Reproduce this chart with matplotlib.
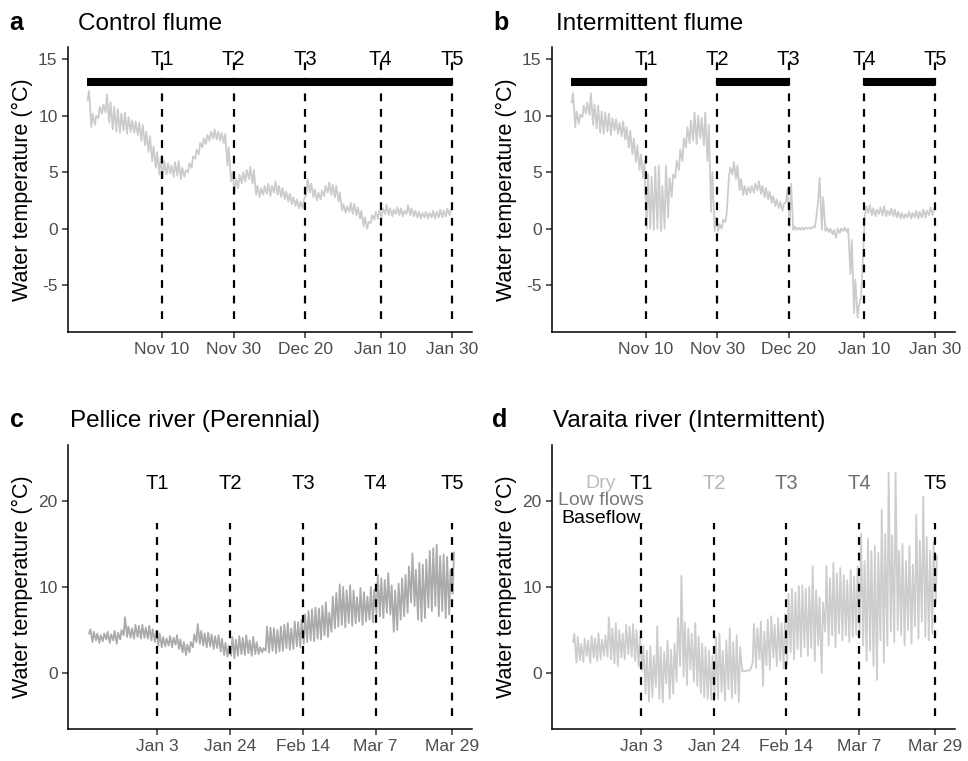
"""Water temperature in the flumes and the two rivers, with sampling dates T1-T5."""

import numpy as np
import matplotlib
matplotlib.use("Agg")
import matplotlib.pyplot as plt

plt.rcParams["font.family"] = ["Liberation Sans", "DejaVu Sans"]
plt.rcParams["axes.unicode_minus"] = False

# ---------------------------------------------------------------------------
# Data: daily low / high water temperature (degC)
# ---------------------------------------------------------------------------

flume_start = np.datetime64("2019-10-20")

control_lo = [11.4, 9.0, 9.2, 9.8, 10.2, 10.3, 9.4, 8.8, 8.6, 8.5,
              8.7, 8.4, 8.6, 8.5, 8.3, 7.8, 7.4, 6.8, 6.0, 5.4,
              4.8, 4.6, 4.8, 4.9, 4.6, 4.7, 4.4, 4.6, 5.0, 5.4,
              6.2, 6.6, 7.2, 7.5, 7.8, 8.0, 7.9, 7.8, 7.6, 5.6,
              4.2, 3.2, 3.6, 4.0, 4.2, 4.4, 4.0, 3.0, 2.8, 3.0,
              3.1, 2.9, 3.2, 3.0, 2.8, 2.6, 2.4, 2.2, 2.0, 1.8,
              1.8, 3.0, 3.2, 2.8, 2.5, 2.6, 2.9, 3.2, 3.0, 2.8,
              2.4, 1.6, 1.4, 1.5, 1.3, 1.2, 0.9, 0.2, 0.0, 0.5,
              0.8, 0.9, 1.0, 1.3, 1.2, 1.1, 1.3, 1.2, 1.1, 1.3,
              1.2, 1.1, 1.0, 0.9, 1.0, 0.9, 1.0, 0.9, 1.0, 1.0,
              1.1, 1.2]
control_hi = [12.2, 10.2, 10.0, 10.8, 11.0, 11.9, 11.2, 10.8, 10.6, 10.2,
              10.3, 9.9, 9.6, 9.5, 9.4, 9.2, 8.6, 8.2, 7.3, 6.8,
              6.3, 6.0, 5.8, 5.6, 5.9, 6.0, 5.4, 5.2, 5.8, 6.4,
              7.0, 7.6, 8.0, 8.3, 8.6, 8.8, 8.6, 8.5, 8.4, 7.2,
              5.0, 4.4, 4.8, 5.0, 5.2, 5.5, 5.2, 3.8, 3.6, 3.8,
              4.0, 3.8, 4.2, 3.8, 3.6, 3.3, 3.1, 2.8, 2.6, 2.4,
              2.6, 4.4, 4.0, 3.5, 3.2, 3.4, 3.8, 4.1, 3.9, 3.8,
              3.2, 2.2, 2.0, 2.3, 2.2, 1.9, 1.6, 1.0, 0.6, 1.2,
              1.5, 1.6, 1.8, 2.1, 1.8, 1.7, 1.9, 1.8, 1.6, 2.1,
              1.8, 1.6, 1.5, 1.4, 1.5, 1.4, 1.6, 1.5, 1.7, 1.6,
              1.8, 1.7]

intermittent_lo = [11.2, 9.0, 9.3, 9.9, 10.2, 10.1, 9.2, 8.9, 8.5, 8.4,
                   8.6, 8.3, 8.7, 8.4, 8.2, 7.9, 7.2, 6.6, 5.9, 5.2,
                   4.5, 0.0, 0.0, -0.1, 0.0, -0.2, 0.0, 1.0, 2.8, 4.5,
                   5.2, 6.0, 7.2, 7.6, 7.8, 7.5, 8.0, 7.4, 6.0, 1.5,
                   -0.2, -0.2, 0.0, 0.6, 4.6, 4.8, 4.4, 3.4, 3.0, 3.0,
                   3.2, 3.2, 3.4, 3.1, 2.8, 2.6, 2.3, 2.0, 1.8, 1.6,
                   2.4, 0.2, -0.1, -0.1, -0.1, -0.1, 0.0, 0.0, 0.1, 2.6,
                   -0.1, -0.2, -0.3, -0.5, -0.8, -0.4, -0.2, -0.3, -4.0, -7.5,
                   -7.9, -6.0, 1.0, 1.4, 1.2, 1.1, 1.3, 1.2, 1.1, 1.2,
                   1.1, 1.0, 0.9, 0.9, 1.0, 0.9, 1.0, 0.9, 1.0, 1.0,
                   1.2, 1.2]
intermittent_hi = [12.0, 10.4, 10.1, 10.9, 11.2, 12.0, 11.0, 10.9, 10.4, 10.3,
                   10.2, 9.8, 9.7, 9.4, 9.5, 9.0, 8.7, 8.0, 7.4, 6.6,
                   6.0, 4.8, 4.6, 5.5, 5.6, 3.8, 5.6, 4.5, 4.8, 6.0,
                   7.0, 8.0, 9.0, 9.6, 10.3, 10.0, 9.8, 10.3, 9.2, 5.0,
                   1.0, 0.4, 0.8, 1.4, 5.4, 5.9, 5.6, 4.4, 3.8, 3.7,
                   3.8, 4.0, 4.2, 3.8, 3.6, 3.3, 2.9, 2.6, 2.4, 2.2,
                   3.6, 4.0, 0.2, 0.1, 0.1, 0.1, 0.1, 0.2, 0.8, 4.5,
                   2.8, 0.1, 0.0, -0.1, 0.0, 0.0, 0.1, 0.0, -1.0, -4.5,
                   -6.8, -3.4, 2.0, 2.1, 1.8, 1.7, 1.9, 2.0, 1.6, 1.8,
                   1.7, 1.5, 1.4, 1.3, 1.5, 1.4, 1.6, 1.5, 1.7, 1.6,
                   1.9, 1.8]

river_start = np.datetime64("2018-12-14")

pellice_lo = [4.6, 3.6, 3.8, 3.5, 3.7, 3.9, 3.5, 3.8, 3.4, 3.9,
              4.4, 4.2, 4.1, 4.0, 4.2, 4.0, 4.1, 4.0, 3.8, 3.6,
              3.2, 3.0, 3.1, 3.2, 3.0, 3.3, 2.8, 2.4, 2.1, 2.4,
              3.0, 3.6, 3.4, 3.2, 3.0, 3.1, 2.8, 2.9, 2.5, 2.1,
              1.9, 2.0, 1.7, 2.0, 2.2, 2.1, 2.3, 2.0, 2.2, 2.2,
              2.4, 2.6, 2.4, 2.6, 2.3, 2.5, 2.6, 2.9, 2.7, 2.8,
              3.1, 3.0, 3.4, 3.6, 3.8, 3.7, 4.0, 3.9, 4.4, 4.2,
              4.8, 5.2, 5.4, 5.6, 5.3, 5.8, 5.5, 5.8, 6.0, 5.6,
              6.0, 6.2, 5.9, 6.8, 6.6, 6.4, 7.0, 6.8, 4.8, 5.0,
              6.2, 6.6, 7.0, 8.2, 7.8, 6.2, 6.0, 6.4, 7.6, 7.2,
              7.8, 6.6, 7.2, 6.4, 6.8, 9.2]
pellice_hi = [5.1, 4.8, 4.6, 4.4, 4.6, 4.8, 4.5, 4.9, 4.7, 5.0,
              6.5, 5.4, 5.2, 5.6, 5.5, 5.6, 5.3, 5.5, 5.1, 4.9,
              4.6, 4.2, 4.0, 4.3, 4.1, 4.4, 3.9, 3.6, 3.3, 3.6,
              4.5, 5.7, 4.9, 4.6, 4.7, 4.5, 4.3, 4.4, 4.0, 3.5,
              3.2, 4.2, 3.9, 4.3, 4.1, 4.4, 3.8, 4.2, 3.6, 3.0,
              2.9, 5.4, 5.3, 5.2, 5.0, 5.4, 5.6, 5.8, 5.2, 6.0,
              5.9, 6.2, 6.8, 7.2, 7.4, 7.6, 7.5, 7.8, 8.2, 7.0,
              8.9, 9.3, 10.3, 10.0, 9.6, 10.2, 9.6, 8.8, 9.9, 9.4,
              8.9, 10.0, 9.7, 11.4, 11.0, 10.8, 11.6, 10.2, 9.6, 10.4,
              11.0, 11.4, 12.4, 13.9, 12.0, 12.8, 12.6, 13.2, 14.2, 14.5,
              14.9, 13.6, 13.8, 13.5, 12.0, 14.0]

varaita_lo = [3.6, 1.2, 1.5, 1.3, 2.0, 1.2, 1.8, 1.4, 1.6, 2.0,
              1.9, 1.6, 1.1, 0.8, 1.8, 1.6, 2.2, 1.9, 1.4, 0.8,
              0.3, -2.4, -3.3, -2.8, -1.6, -3.0, -3.4, -1.2, -3.0, -2.4,
              -1.0, 0.8, -0.4, -1.4, 0.4, -1.0, -1.5, -2.3, -2.8, -3.0,
              -3.1, -2.6, -3.0, -2.2, -3.2, -1.9, -2.9, -2.4, -3.4, 0.2,
              0.2, 0.3, 1.2, 0.6, 1.6, -1.5, 0.9, 0.4, 1.8, 0.8,
              1.4, 0.5, 1.0, 2.4, 1.6, 2.8, 1.9, 3.0, 2.0, 2.9,
              1.4, 3.2, 0.0, 4.8, 3.2, 4.4, 3.0, 4.6, 3.8, 4.4,
              3.6, 4.2, 4.4, 4.4, 3.2, 1.4, 2.6, 0.8, -0.8, 3.8,
              1.2, 3.2, 4.8, 3.6, 5.0, 4.4, 3.2, 5.0, 3.4, 5.4,
              4.0, 6.0, 4.2, 3.8, 4.6, 8.2]
varaita_hi = [4.6, 4.2, 3.4, 4.0, 3.8, 4.3, 4.0, 4.6, 3.9, 4.4,
              6.5, 5.2, 5.8, 5.0, 4.6, 5.6, 5.4, 5.7, 5.0, 4.2,
              3.2, 2.6, 3.1, 2.0, 5.4, 3.0, 2.4, 3.8, 2.7, 3.4,
              6.4, 11.3, 5.9, 5.2, 4.6, 5.8, 4.2, 3.4, 3.0, 2.6,
              2.0, 4.2, 4.6, 2.6, 3.8, 5.2, 3.6, 4.4, 3.0, 0.3,
              0.3, 0.4, 5.7, 5.2, 6.0, 4.8, 6.2, 6.6, 5.6, 6.4,
              5.8, 6.9, 9.2, 9.8, 9.4, 10.1, 10.2, 9.8, 10.0, 12.4,
              9.6, 8.8, 8.2, 12.4, 11.0, 12.8, 11.6, 12.2, 11.4, 10.8,
              12.0, 11.2, 12.4, 16.2, 13.0, 15.6, 14.2, 14.8, 14.0, 19.0,
              16.2, 23.3, 16.0, 23.3, 14.2, 15.0, 13.0, 14.8, 12.6, 18.4,
              15.4, 20.5, 15.8, 14.2, 15.2, 13.6]

sample_names = ["T1", "T2", "T3", "T4", "T5"]
flume_samples = ["2019-11-10", "2019-11-30", "2019-12-20", "2020-01-10", "2020-01-30"]
flume_labels = ["Nov 10", "Nov 30", "Dec 20", "Jan 10", "Jan 30"]
river_samples = ["2019-01-03", "2019-01-24", "2019-02-14", "2019-03-07", "2019-03-29"]
river_labels = ["Jan 3", "Jan 24", "Feb 14", "Mar 7", "Mar 29"]

# flowing periods (black bars)
control_flow = [("2019-10-20", "2020-01-30")]
intermittent_flow = [("2019-10-20", "2019-11-10"), ("2019-11-30", "2019-12-20"),
                     ("2020-01-10", "2020-01-30")]

# Varaita: hydrological state at each sampling date
varaita_tcolors = ["black", "#b5b5b5", "#6e6e6e", "#6e6e6e", "black"]
varaita_legend = [("Dry", "#bdbdbd"), ("Low flows", "#7a7a7a"), ("Baseflow", "black")]


# ---------------------------------------------------------------------------
# Helpers
# ---------------------------------------------------------------------------

W, H = 968, 761


def daily_series(start, lo, hi):
    """Interleave daily low (morning) and high (afternoon) readings."""
    days = start + np.arange(len(lo)) * np.timedelta64(1, "D")
    t = np.empty(2 * len(lo), dtype="datetime64[h]")
    t[0::2] = days + np.timedelta64(6, "h")
    t[1::2] = days + np.timedelta64(15, "h")
    v = np.empty(2 * len(lo))
    v[0::2] = lo
    v[1::2] = hi
    return t, v


def panel(fig, rect_px, xlim, ylim, yticks, samples, labels):
    left, top, right, bottom = rect_px
    ax = fig.add_axes([left / W, 1 - bottom / H, (right - left) / W, (bottom - top) / H])
    for side in ("top", "right"):
        ax.spines[side].set_visible(False)
    for side in ("left", "bottom"):
        ax.spines[side].set_linewidth(1.1)
    ax.set_xlim(np.datetime64(xlim[0]), np.datetime64(xlim[1]))
    ax.set_ylim(*ylim)
    ax.set_yticks(yticks)
    ax.set_xticks([np.datetime64(d) for d in samples])
    ax.set_xticklabels(labels)
    ax.tick_params(direction="out", length=4.5, width=1.1, color="#333333",
                   labelcolor="#4d4d4d", labelsize=12.5, pad=3)
    ax.set_ylabel("Water temperature (°C)", fontsize=15.5)
    ax.yaxis.set_label_coords(-35 / (right - left), 0.5)
    return ax


def title(fig, x_letter, x_title, y_base, letter, text):
    fig.text(x_letter / W, 1 - y_base / H, letter, fontsize=18, fontweight="bold",
             va="baseline")
    fig.text(x_title / W, 1 - y_base / H, text, fontsize=17.5, va="baseline")


dash = (0, (3.5, 3.5))
label_size = 14.5

fig = plt.figure(figsize=(W / 100, H / 100), dpi=100)

# ---------------------------------------------------------------------------
# a, b: flumes
# ---------------------------------------------------------------------------
flume_xlim = ("2019-10-14 18:00", "2020-02-04 12:00")
for rect, lo, hi, flows, letter, name, xl, xt in [
    ((68, 47, 472, 332), control_lo, control_hi, control_flow, "a", "Control flume", 9, 78),
    ((552, 47, 955, 332), intermittent_lo, intermittent_hi, intermittent_flow, "b",
     "Intermittent flume", 493, 556),
]:
    ax = panel(fig, rect, flume_xlim, (-9.15, 16.1), [-5, 0, 5, 10, 15],
               flume_samples, flume_labels)
    t, v = daily_series(flume_start, lo, hi)
    ax.plot(t, v, color="#cccccc", lw=1.3, zorder=1)
    sd = [np.datetime64(d) for d in flume_samples]
    ax.vlines(sd, -8, 15, colors="black", linestyles=dash, lw=1.6, zorder=2)
    for a, b in flows:
        ax.plot([np.datetime64(a), np.datetime64(b)], [13, 13], color="black", lw=5.8,
                solid_capstyle="butt", zorder=3)
    for d, s in zip(sd, sample_names):
        ax.text(d, 15, s, ha="center", va="center", fontsize=label_size, zorder=4)
    title(fig, xl, xt, 29.5, letter, name)

# ---------------------------------------------------------------------------
# c, d: rivers
# ---------------------------------------------------------------------------
river_xlim = ("2018-12-08 04:00", "2019-04-03 20:00")
for rect, lo, hi, color, tcolors, letter, name, xl, xt in [
    ((68, 445, 472, 729), pellice_lo, pellice_hi, "#ababab", ["black"] * 5, "c",
     "Pellice river (Perennial)", 10, 70),
    ((552, 445, 955, 729), varaita_lo, varaita_hi, "#cdcdcd", varaita_tcolors, "d",
     "Varaita river (Intermittent)", 492, 553),
]:
    ax = panel(fig, rect, river_xlim, (-6.5, 26.5), [0, 10, 20],
               river_samples, river_labels)
    t, v = daily_series(river_start, lo, hi)
    ax.plot(t, v, color=color, lw=1.3, zorder=1)
    sd = [np.datetime64(d) for d in river_samples]
    ax.vlines(sd, -5, 17.4, colors="black", linestyles=dash, lw=1.6, zorder=2)
    for d, s, c in zip(sd, sample_names, tcolors):
        ax.text(d, 22, s, ha="center", va="center", fontsize=label_size, color=c, zorder=4)
    title(fig, xl, xt, 427, letter, name)

# state legend written next to T1 in panel d
for (txt, c), y in zip(varaita_legend, [22, 20, 18]):
    ax.text(np.datetime64("2018-12-22 08:00"), y, txt, ha="center", va="center",
            fontsize=14, color=c, zorder=4)

fig.savefig("out.png", dpi=100)
